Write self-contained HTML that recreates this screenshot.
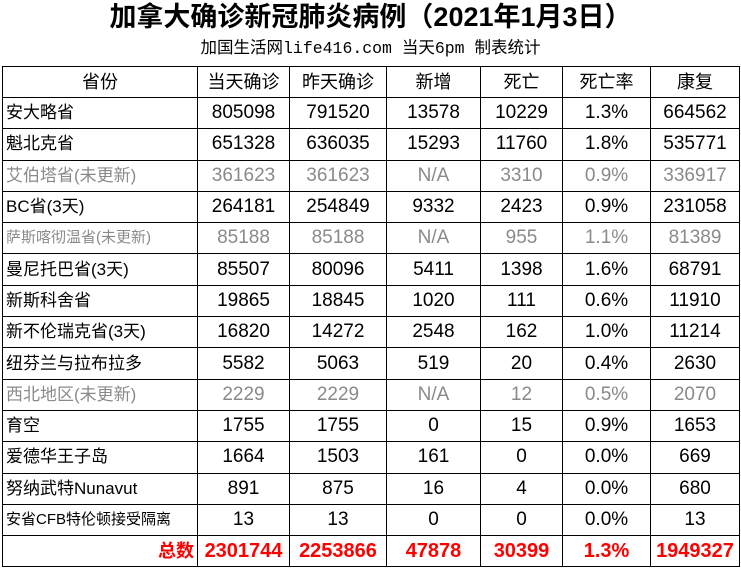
<!DOCTYPE html>
<html><head><meta charset="utf-8"><style>
body{margin:0;background:#fff;width:741px;height:582px;overflow:hidden;font-family:"Liberation Sans","Noto Sans CJK SC",sans-serif;}
.t{position:absolute;left:0;width:741px;text-align:center;top:1px;font-size:27px;font-weight:bold;line-height:32px;}
.s{position:absolute;left:0;width:741px;text-align:center;top:38px;font-size:16.5px;line-height:22px;font-family:"Liberation Mono","Noto Sans CJK SC",monospace;}
table{position:absolute;left:2px;top:66px;border-collapse:collapse;}
td{border:1.5px solid #000;height:30.3px;padding:0;text-align:center;font-size:19px;line-height:20px;}
td:first-child{text-align:left;padding-left:3px;font-size:17px;}
tr.h td{font-size:18px;height:30px;text-align:center;padding:0}
tr.g td{color:#8a8a8a}
tr.r td{color:#f00;font-weight:bold;font-size:20px}
tr.r td:first-child{text-align:right;padding-right:3px;font-size:18px}
</style></head><body>
<div class="t">加拿大确诊新冠肺炎病例（2021年1月3日）</div>
<div class="s">加国生活网life416.com 当天6pm 制表统计</div>
<table>
<colgroup><col style="width:195px"><col style="width:92px"><col style="width:97px"><col style="width:94px"><col style="width:82px"><col style="width:88px"><col style="width:89px"></colgroup>
<tr class="h"><td>省份</td><td>当天确诊</td><td>昨天确诊</td><td>新增</td><td>死亡</td><td>死亡率</td><td>康复</td></tr>
<tr><td>安大略省</td><td>805098</td><td>791520</td><td>13578</td><td>10229</td><td>1.3%</td><td>664562</td></tr>
<tr><td>魁北克省</td><td>651328</td><td>636035</td><td>15293</td><td>11760</td><td>1.8%</td><td>535771</td></tr>
<tr class="g"><td>艾伯塔省(未更新)</td><td>361623</td><td>361623</td><td>N/A</td><td>3310</td><td>0.9%</td><td>336917</td></tr>
<tr><td>BC省(3天)</td><td>264181</td><td>254849</td><td>9332</td><td>2423</td><td>0.9%</td><td>231058</td></tr>
<tr class="g"><td style="font-size:15px">萨斯喀彻温省(未更新)</td><td>85188</td><td>85188</td><td>N/A</td><td>955</td><td>1.1%</td><td>81389</td></tr>
<tr><td>曼尼托巴省(3天)</td><td>85507</td><td>80096</td><td>5411</td><td>1398</td><td>1.6%</td><td>68791</td></tr>
<tr><td>新斯科舍省</td><td>19865</td><td>18845</td><td>1020</td><td>111</td><td>0.6%</td><td>11910</td></tr>
<tr><td>新不伦瑞克省(3天)</td><td>16820</td><td>14272</td><td>2548</td><td>162</td><td>1.0%</td><td>11214</td></tr>
<tr><td>纽芬兰与拉布拉多</td><td>5582</td><td>5063</td><td>519</td><td>20</td><td>0.4%</td><td>2630</td></tr>
<tr class="g"><td>西北地区(未更新)</td><td>2229</td><td>2229</td><td>N/A</td><td>12</td><td>0.5%</td><td>2070</td></tr>
<tr><td>育空</td><td>1755</td><td>1755</td><td>0</td><td>15</td><td>0.9%</td><td>1653</td></tr>
<tr><td>爱德华王子岛</td><td>1664</td><td>1503</td><td>161</td><td>0</td><td>0.0%</td><td>669</td></tr>
<tr><td>努纳武特Nunavut</td><td>891</td><td>875</td><td>16</td><td>4</td><td>0.0%</td><td>680</td></tr>
<tr><td style="font-size:15px">安省CFB特伦顿接受隔离</td><td>13</td><td>13</td><td>0</td><td>0</td><td>0.0%</td><td>13</td></tr>
<tr class="r"><td>总数</td><td>2301744</td><td>2253866</td><td>47878</td><td>30399</td><td>1.3%</td><td>1949327</td></tr>
</table>
</body></html>
